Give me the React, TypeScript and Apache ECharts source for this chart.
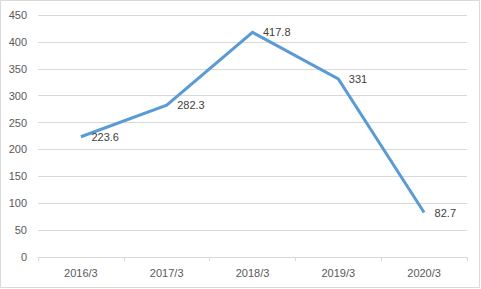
import React, { useEffect, useRef } from "react";
import * as echarts from "echarts";

const categories = ["2016/3", "2017/3", "2018/3", "2019/3", "2020/3"];
const values = [223.6, 282.3, 417.8, 331, 82.7];

export default function App() {
  const ref = useRef<HTMLDivElement>(null);
  useEffect(() => {
    const chart = echarts.init(ref.current!, undefined, { renderer: "svg" });
    chart.setOption({
      animation: false,
      backgroundColor: "#ffffff",
      graphic: [
        {
          type: "rect",
          shape: { x: 0.5, y: 0.5, width: 479, height: 287 },
          style: { fill: "none", stroke: "#d9d9d9", lineWidth: 1 },
          silent: true,
        },
      ],
      grid: { left: 38, right: 14, top: 15, bottom: 32 },
      xAxis: {
        type: "category",
        data: categories,
        boundaryGap: true,
        axisLine: { lineStyle: { color: "#d9d9d9", width: 1 } },
        axisTick: { show: true, length: 4, lineStyle: { color: "#d9d9d9" } },
        axisLabel: { color: "#595959", fontSize: 11, fontFamily: "Liberation Sans", margin: 10 },
      },
      yAxis: {
        type: "value",
        min: 0,
        max: 450,
        interval: 50,
        axisLine: { show: false },
        axisTick: { show: false },
        splitLine: { lineStyle: { color: "#d9d9d9", width: 1 } },
        axisLabel: { color: "#595959", fontSize: 11, fontFamily: "Liberation Sans", margin: 11 },
      },
      series: [
        {
          type: "line",
          data: values,
          showSymbol: true,
          symbol: "circle",
          symbolSize: 1,
          itemStyle: { color: "rgba(0,0,0,0)", borderWidth: 0 },
          lineStyle: { color: "#5b9bd5", width: 3, join: "miter" },
          label: {
            show: true,
            position: "right",
            distance: 10,
            color: "#404040",
            fontSize: 11,
            fontFamily: "Liberation Sans",
          },
        },
      ],
    });
    return () => chart.dispose();
  }, []);
  return <div ref={ref} style={{ width: 481, height: 289, position: "absolute", left: 0, top: 0 }} />;
}
